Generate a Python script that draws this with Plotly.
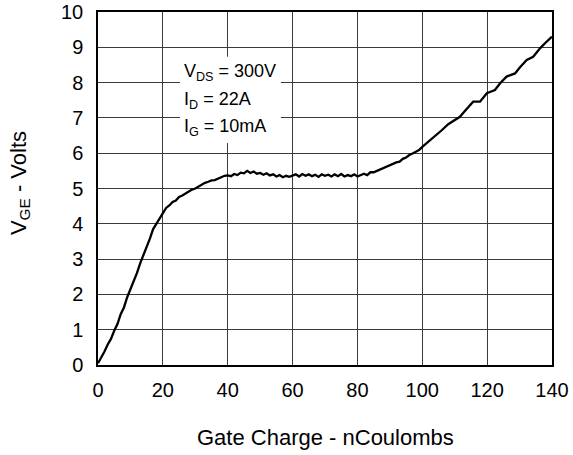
import plotly.graph_objects as go

# Gate charge curve: V_GE (V) versus gate charge (nC)
charge_nc = [0, 1, 2, 3, 4, 5, 6, 7, 8, 9, 10, 11, 12, 13, 14, 15, 16, 17, 18, 19, 20,
             21, 22, 23, 24, 25, 26, 27, 28, 29, 30, 31, 32, 33, 34, 35, 36, 37, 38, 39, 40,
             41, 42, 43, 44, 45, 46, 47, 48, 49, 50, 51, 52, 53, 54, 55, 56, 57, 58, 59, 60,
             61, 62, 63, 64, 65, 66, 67, 68, 69, 70, 71, 72, 73, 74, 75, 76, 77, 78, 79, 80,
             81, 82, 83, 84, 85, 86, 87, 88, 89, 90, 91, 92, 93, 94, 95, 96, 97, 98, 99, 100,
             102, 104, 106, 108, 110, 111.6, 113, 115.7, 117.8, 119.9, 122.4, 124, 126,
             128.6, 130, 132.2, 134.2, 136.3, 138, 140]
vge_volts = [0.05, 0.2, 0.38, 0.58, 0.74, 0.97, 1.16, 1.44, 1.63, 1.92, 2.14, 2.4, 2.6, 2.88, 3.1, 3.36, 3.58, 3.85, 4.0, 4.18, 4.32,
             4.45, 4.52, 4.62, 4.66, 4.76, 4.8, 4.86, 4.91, 4.97, 5.0, 5.06, 5.1, 5.16, 5.19, 5.23, 5.24, 5.29, 5.32, 5.36, 5.37,
             5.35, 5.41, 5.38, 5.45, 5.43, 5.5, 5.44, 5.48, 5.42, 5.44, 5.39, 5.43, 5.37, 5.4, 5.34, 5.38, 5.32, 5.36, 5.33, 5.36,
             5.4, 5.34, 5.41, 5.36, 5.4, 5.35, 5.39, 5.33, 5.4, 5.36, 5.39, 5.34, 5.4, 5.35, 5.41, 5.34, 5.38, 5.35, 5.4, 5.34,
             5.38, 5.42, 5.38, 5.46, 5.46, 5.5, 5.55, 5.58, 5.64, 5.66, 5.7, 5.74, 5.76, 5.84, 5.88, 5.95, 5.99, 6.05, 6.09, 6.18,
             6.33, 6.5, 6.65, 6.82, 6.93, 7.03, 7.18, 7.46, 7.46, 7.7, 7.79, 7.98, 8.17,
             8.26, 8.42, 8.64, 8.73, 8.97, 9.13, 9.3]

x_ticks = [0, 20, 40, 60, 80, 100, 120, 140]
y_ticks = [0, 1, 2, 3, 4, 5, 6, 7, 8, 9, 10]

condition_lines = ["V<sub>DS</sub> = 300V", "I<sub>D</sub> = 22A", "I<sub>G</sub> = 10mA"]
condition_y = [8.3, 7.5, 6.72]

FONT = "Liberation Sans, Arial, sans-serif"

fig = go.Figure()
fig.add_trace(go.Scatter(
    x=charge_nc, y=vge_volts, mode="lines",
    line=dict(color="black", width=2.3),
    showlegend=False, hoverinfo="skip",
))

# white panel behind the test conditions, covering the grid
fig.add_shape(type="rect", x0=25.3, x1=56.4, y0=6.29, y1=8.73,
              xref="x", yref="y", fillcolor="white", line=dict(width=0),
              layer="between")

for txt, yv in zip(condition_lines, condition_y):
    fig.add_annotation(x=26.0, y=yv, xref="x", yref="y",
                       text=txt, showarrow=False, xanchor="left", yanchor="middle",
                       font=dict(family=FONT, size=18, color="black"))

axis_common = dict(
    showgrid=True, gridcolor="#3a3a3a", gridwidth=1,
    showline=True, linecolor="black", linewidth=1.5, mirror=True,
    zeroline=False, ticks="", automargin=False,
    tickfont=dict(family=FONT, size=20, color="black"),
)

fig.update_xaxes(range=[0, 140], tickvals=x_ticks, ticklabelstandoff=6, **axis_common)
fig.update_yaxes(range=[0, 10], tickvals=y_ticks, ticklabelstandoff=9, **axis_common)

fig.add_annotation(x=0.5, y=-0.205, xref="paper", yref="paper",
                   text="Gate Charge - nCoulombs", showarrow=False,
                   xanchor="center", yanchor="middle",
                   font=dict(family=FONT, size=22, color="black"))
fig.add_annotation(x=-0.172, y=0.515, xref="paper", yref="paper",
                   text="V<sub>GE</sub> - Volts", showarrow=False, textangle=-90,
                   xanchor="center", yanchor="middle",
                   font=dict(family=FONT, size=22, color="black"))

fig.update_layout(
    width=573, height=455,
    margin=dict(l=98, r=21, t=12, b=90, autoexpand=False),
    paper_bgcolor="white", plot_bgcolor="white",
)

fig.write_html("out.html")
